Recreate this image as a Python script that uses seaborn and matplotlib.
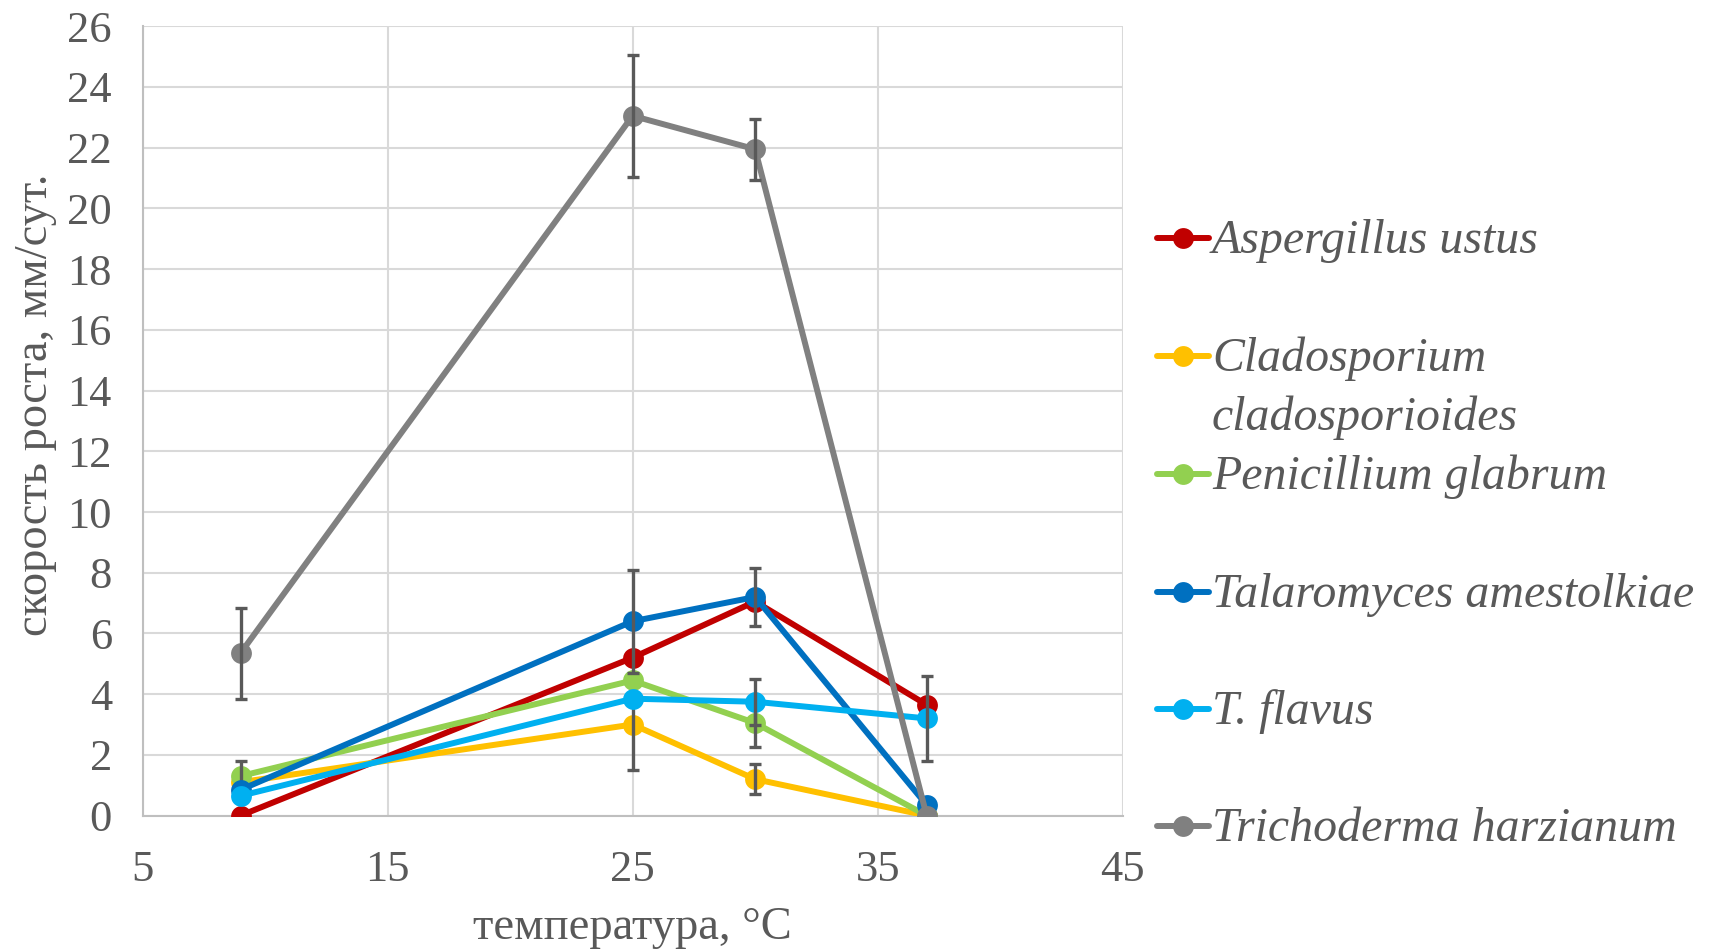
import numpy as np
import pandas as pd
import matplotlib
matplotlib.use("Agg")
import matplotlib.pyplot as plt
import seaborn as sns
from matplotlib.lines import Line2D

# данные
temps = [9, 25, 30, 37]
species = ["Aspergillus ustus", "Cladosporium\ncladosporioides", "Penicillium glabrum",
           "Talaromyces amestolkiae", "T. flavus", "Trichoderma harzianum"]
colors = ["#C00000", "#FFC000", "#92D050", "#0070C0", "#00B0F0", "#808080"]

aspergillus = [0.0, 5.2, 7.05, 3.65]
cladosporium = [1.1, 3.0, 1.2, 0.0]
penicillium = [1.3, 4.45, 3.05, 0.0]
talaromyces = [0.85, 6.4, 7.2, 0.35]
flavus = [0.65, 3.85, 3.75, 3.2]
trichoderma = [5.35, 23.05, 21.95, 0.0]

err_aspergillus = [0, 0, 0, 0]
err_cladosporium = [0, 1.5, 0.5, 0]
err_penicillium = [0.5, 0, 0.8, 0]
err_talaromyces = [0, 1.7, 0.97, 0]
err_flavus = [0, 0, 0.75, 1.4]
err_trichoderma = [1.5, 2.0, 1.0, 0]

values = [aspergillus, cladosporium, penicillium, talaromyces, flavus, trichoderma]
errors = [err_aspergillus, err_cladosporium, err_penicillium, err_talaromyces,
          err_flavus, err_trichoderma]

text_color = "#595959"

sns.set_theme(style="white")
plt.rcParams["font.family"] = ["Liberation Serif", "DejaVu Serif"]

fig = plt.figure(figsize=(17.19, 9.52), dpi=100)
ax = fig.add_axes([0.0829, 0.1433, 0.5702, 0.8291])

for i, (name, vals, errs, col) in enumerate(zip(species, values, errors, colors)):
    df = pd.DataFrame({"t": temps, "v": vals})
    sns.lineplot(data=df, x="t", y="v", color=col, marker="o", markersize=15,
                 markeredgewidth=0, linewidth=4.3, ax=ax, zorder=3 + 2 * i)
    errs = np.array(errs, dtype=float)
    mask = errs > 0
    if mask.any():
        ax.errorbar(np.array(temps)[mask], np.array(vals)[mask], yerr=errs[mask],
                    fmt="none", ecolor="#595959", elinewidth=2.4, capsize=4.5,
                    capthick=2.4, zorder=4 + 2 * i)

ax.set_xlim(5, 45)
ax.set_ylim(0, 26)
ax.set_xticks([5, 15, 25, 35, 45])
ax.set_yticks(range(0, 27, 2))
ax.grid(True, color="#D9D9D9", linewidth=1.5, zorder=0)
ax.set_axisbelow(True)
for s in ["top", "right"]:
    ax.spines[s].set_visible(False)
for s in ["left", "bottom"]:
    ax.spines[s].set_color("#BFBFBF")
    ax.spines[s].set_linewidth(1.5)
ax.tick_params(axis="both", length=0, labelsize=32, labelcolor=text_color)
ax.tick_params(axis="y", pad=22)
ax.tick_params(axis="x", pad=25)
ax.set_xlabel("температура, °С", fontsize=33.5, color=text_color, labelpad=12)
ax.set_ylabel("скорость роста, мм/сут.", fontsize=33.5, color=text_color)
ax.yaxis.set_label_coords(-0.087, 0.52)

# легенда вручную (как в Excel: маркер у первой строки)
leg_y = [238, 356, 474, 592, 709, 826]
W, H = 1719, 952
for name, col, yy in zip(species, colors, leg_y):
    fy = 1 - yy / H
    fig.add_artist(Line2D([1157 / W, 1209 / W], [fy, fy], color=col, linewidth=4.3,
                          transform=fig.transFigure))
    fig.add_artist(Line2D([1183 / W], [fy], color=col, marker="o", markersize=15,
                          markeredgewidth=0, transform=fig.transFigure))
    lines = name.split("\n")
    for k, line in enumerate(lines):
        fig.text(1212 / W, fy - (3 + 59 * k) / H, line, fontsize=34.5,
                 style="italic", color=text_color, va="center", ha="left")

fig.savefig("out.png", dpi=100)
